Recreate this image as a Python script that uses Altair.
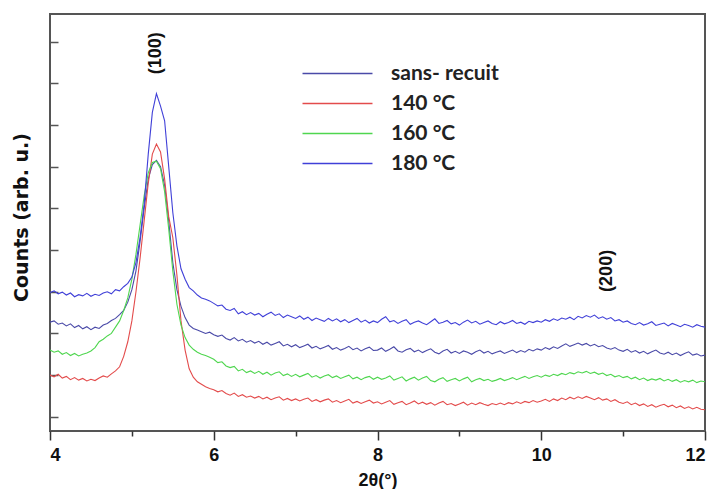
import altair as alt
import pandas as pd

# x sampling grid (2theta, degrees), step 0.05 from 4 to 12
x_grid = [round(4 + 0.05 * i, 2) for i in range(161)]

sans_recuit = [
    2.27, 2.30, 2.22, 2.25, 2.18, 2.23, 2.14, 2.19, 2.11, 2.16,
    2.09, 2.15, 2.12, 2.20, 2.24, 2.31, 2.36, 2.45, 2.55, 2.75,
    3.05, 3.50, 4.20, 5.00, 5.70, 6.05, 6.15, 6.00, 5.55, 4.70,
    3.70, 3.05, 2.65, 2.38, 2.20, 2.12, 2.08, 2.04, 2.00, 2.03,
    1.97, 1.93, 1.96, 1.88, 1.84, 1.90, 1.82, 1.86, 1.79, 1.83,
    1.77, 1.81, 1.74, 1.79, 1.72, 1.76, 1.80, 1.70, 1.74, 1.68,
    1.73, 1.66, 1.70, 1.74, 1.65, 1.69, 1.63, 1.67, 1.71, 1.62,
    1.66, 1.60, 1.64, 1.69, 1.61, 1.65, 1.58, 1.63, 1.67, 1.59,
    1.60, 1.65, 1.57, 1.62, 1.68, 1.58, 1.55, 1.61, 1.64, 1.56,
    1.60, 1.54, 1.59, 1.63, 1.55, 1.51, 1.58, 1.62, 1.53, 1.57,
    1.52, 1.58, 1.55, 1.50, 1.56, 1.60, 1.53, 1.57, 1.51, 1.55,
    1.58, 1.52, 1.56, 1.60, 1.54, 1.59, 1.55, 1.62, 1.58, 1.63,
    1.60, 1.66, 1.62, 1.68, 1.64, 1.70, 1.75, 1.69, 1.73, 1.77,
    1.72, 1.76, 1.70, 1.74, 1.68, 1.71, 1.65, 1.62, 1.66, 1.60,
    1.57, 1.62, 1.55, 1.59, 1.53, 1.57, 1.51, 1.56, 1.60, 1.53,
    1.50, 1.55, 1.49, 1.53, 1.47, 1.52, 1.56, 1.48, 1.51, 1.46,
    1.48,
]

c140 = [
    1.00, 0.96, 1.02, 0.93, 0.97, 0.89, 0.94, 0.88, 0.92, 0.86,
    0.90, 0.87, 0.93, 0.98, 0.95, 1.03, 1.10, 1.20, 1.45, 1.80,
    2.30, 3.00, 3.80, 4.70, 5.60, 6.30, 6.54, 6.35, 5.70, 4.80,
    4.30, 3.40, 2.30, 1.60, 1.15, 0.95, 0.84, 0.78, 0.72, 0.68,
    0.65, 0.60, 0.63, 0.56, 0.52, 0.57, 0.49, 0.53, 0.47, 0.50,
    0.45, 0.49, 0.43, 0.47, 0.41, 0.45, 0.48, 0.40, 0.44, 0.39,
    0.43, 0.38, 0.42, 0.45, 0.37, 0.41, 0.36, 0.40, 0.43, 0.35,
    0.39, 0.34, 0.38, 0.42, 0.33, 0.37, 0.32, 0.36, 0.40, 0.33,
    0.36, 0.31, 0.35, 0.39, 0.30, 0.34, 0.37, 0.29, 0.33, 0.38,
    0.31, 0.35, 0.30, 0.34, 0.28, 0.33, 0.37, 0.29, 0.32, 0.27,
    0.31, 0.35, 0.28, 0.33, 0.29, 0.34, 0.30, 0.27, 0.32, 0.29,
    0.33, 0.29, 0.34, 0.31, 0.36, 0.32, 0.37, 0.34, 0.39, 0.35,
    0.38, 0.42, 0.37, 0.43, 0.39, 0.45, 0.41, 0.47, 0.43, 0.48,
    0.44, 0.49, 0.45, 0.41, 0.46, 0.40, 0.43, 0.37, 0.41, 0.35,
    0.32, 0.36, 0.29, 0.33, 0.27, 0.31, 0.25, 0.29, 0.23, 0.27,
    0.30, 0.24, 0.28, 0.22, 0.26, 0.20, 0.24, 0.19, 0.23, 0.18,
    0.17,
]

c160 = [
    1.60, 1.55, 1.58, 1.50, 1.54, 1.47, 1.52, 1.46, 1.50, 1.53,
    1.58, 1.66, 1.80, 1.86, 1.94, 2.00, 2.15, 2.30, 2.55, 2.85,
    3.30, 3.90, 4.60, 5.30, 5.85, 6.10, 6.13, 5.95, 5.40, 4.50,
    3.50, 2.70, 2.20, 1.90, 1.72, 1.62, 1.55, 1.50, 1.47, 1.43,
    1.38, 1.30, 1.32, 1.22, 1.18, 1.21, 1.10, 1.14, 1.06, 1.10,
    1.04, 1.09, 1.02, 1.07, 1.00, 1.05, 1.08, 0.99, 1.03, 0.97,
    1.02, 0.96, 1.00, 1.04, 0.95, 0.99, 0.93, 0.98, 1.01, 0.94,
    0.98, 0.92, 0.96, 1.00, 0.91, 0.95, 0.89, 0.94, 0.97, 0.90,
    0.95, 0.90, 0.93, 0.98, 0.88, 0.92, 0.96, 0.86, 0.91, 0.95,
    0.88, 0.93, 0.97, 0.87, 0.84, 0.90, 0.94, 0.85, 0.89, 0.92,
    0.86, 0.91, 0.95, 0.84, 0.89, 0.92, 0.87, 0.90, 0.85, 0.88,
    0.92, 0.87, 0.90, 0.94, 0.89, 0.93, 0.97, 0.92, 0.96, 0.99,
    0.95, 1.00, 0.97, 1.02, 0.99, 1.04, 1.01, 1.06, 1.03, 1.08,
    1.05, 1.09, 1.04, 1.07, 1.02, 1.05, 0.99, 1.02, 0.96, 0.99,
    0.94, 0.97, 0.91, 0.95, 0.89, 0.93, 0.87, 0.91, 0.88, 0.92,
    0.86, 0.90, 0.85, 0.89, 0.83, 0.87, 0.84, 0.88, 0.82, 0.86,
    0.84,
]

c180 = [
    2.98, 3.02, 2.95, 2.99, 2.92, 2.97, 2.88, 2.93, 2.90, 2.96,
    2.89, 2.94, 2.91, 2.97, 3.00, 2.95, 3.05, 3.02, 3.12, 3.20,
    3.35, 3.70, 4.30, 5.10, 6.30, 7.30, 7.75, 7.45, 7.10, 6.00,
    4.90, 4.10, 3.55, 3.30, 3.10, 3.02, 2.92, 2.85, 2.82, 2.78,
    2.72, 2.66, 2.68, 2.58, 2.55, 2.60, 2.47, 2.52, 2.45, 2.50,
    2.44, 2.48, 2.40, 2.46, 2.51, 2.43, 2.47, 2.38, 2.44, 2.40,
    2.36, 2.42, 2.34, 2.39, 2.31, 2.37, 2.33, 2.29, 2.36, 2.30,
    2.35, 2.28, 2.33, 2.26, 2.31, 2.36, 2.27, 2.32, 2.25, 2.30,
    2.26, 2.34, 2.40, 2.28, 2.31, 2.24, 2.29, 2.33, 2.22, 2.27,
    2.30, 2.25, 2.21, 2.28, 2.35, 2.24, 2.27, 2.31, 2.23, 2.26,
    2.20, 2.27, 2.32, 2.25, 2.29, 2.22, 2.26, 2.30, 2.24, 2.21,
    2.28, 2.23, 2.26, 2.31, 2.24, 2.27, 2.22, 2.29, 2.26, 2.30,
    2.27, 2.33, 2.29, 2.35, 2.31, 2.37, 2.34, 2.39, 2.33, 2.41,
    2.37, 2.43, 2.39, 2.44, 2.36, 2.40, 2.34, 2.38, 2.30, 2.33,
    2.27, 2.30, 2.24, 2.21, 2.26, 2.20, 2.23, 2.28, 2.19, 2.22,
    2.25, 2.18, 2.24, 2.20, 2.16, 2.22, 2.19, 2.15, 2.21, 2.17,
    2.15,
]

series_names = ["sans- recuit", "140 °C", "160 °C", "180 °C"]
series_colors = ["#4a4aa8", "#e34b4b", "#4fd64f", "#4040d8"]

peak_labels = ["(100)", "(200)"]
peak_x = [5.3, 10.8]
peak_y = [8.72, 3.5]

major_ticks = [4, 6, 8, 10, 12]
minor_ticks = [5, 7, 9, 11]
y_ticks = [0, 1, 2, 3, 4, 5, 6, 7, 8, 9]

rows = []
for name, vals in zip(series_names, [sans_recuit, c140, c160, c180]):
    for xv, yv in zip(x_grid, vals):
        rows.append({"x": xv, "value": yv, "series": name})
df = pd.DataFrame(rows)

ann = pd.DataFrame({"x": peak_x, "value": peak_y, "label": peak_labels})

x_scale = alt.Scale(domain=[4, 12], nice=False, zero=False)
y_scale = alt.Scale(domain=[-0.34, 9.66], nice=False, zero=False)

lines = alt.Chart(df).mark_line(strokeWidth=1.1, clip=True).encode(
    x=alt.X(
        "x:Q",
        scale=x_scale,
        axis=alt.Axis(
            orient="bottom",
            values=major_ticks,
            format="d",
            domain=False,
            grid=False,
            tickSize=9,
            tickWidth=1.5,
            tickColor="#333",
            labelFont="Liberation Sans",
            labelFontWeight="bold",
            labelFontSize=18,
            labelColor="#111",
            labelPadding=6,
            title="2θ(°)",
            titleFont="Liberation Sans",
            titleFontWeight="bold",
            titleFontSize=18,
            titleColor="#111",
            titlePadding=7,
        ),
    ),
    y=alt.Y(
        "value:Q",
        scale=y_scale,
        axis=alt.Axis(
            values=y_ticks,
            labels=False,
            domain=False,
            grid=False,
            offset=-8,
            tickSize=8,
            tickWidth=1.5,
            tickColor="#555",
            title="Counts (arb. u.)",
            titleFont="DejaVu Sans",
            titleFontWeight="bold",
            titleFontSize=19,
            titleColor="#111",
            titleAngle=270,
            titleX=-37,
            titleY=203,
            titleAlign="center",
            titleBaseline="middle",
        ),
    ),
    color=alt.Color(
        "series:N",
        scale=alt.Scale(domain=series_names, range=series_colors),
        legend=alt.Legend(
            title=None,
            orient="none",
            legendX=275,
            legendY=47,
            symbolType="M-3,0H3",
            symbolSize=544,
            symbolStrokeWidth=1.5,
            symbolFillColor="transparent",
            labelFont="Lato",
            labelFontWeight="bold",
            labelFontSize=21,
            labelColor="#222",
            labelOffset=41,
            rowPadding=7,
            padding=0,
        ),
    ),
)

labels = alt.Chart(ann).mark_text(
    angle=270, align="center", baseline="middle",
    font="Liberation Sans", fontWeight="bold", fontSize=18, color="#111"
).encode(
    x=alt.X(
        "x:Q",
        scale=x_scale,
        axis=alt.Axis(
            orient="bottom",
            values=minor_ticks,
            labels=False,
            domain=False,
            grid=False,
            tickSize=5,
            tickWidth=1.5,
            tickColor="#333",
            title=None,
        ),
    ),
    y=alt.Y("value:Q", scale=y_scale),
    text="label:N",
)

chart = (
    alt.layer(lines, labels)
    .resolve_axis(x="independent")
    .properties(
        width=655,
        height=417,
        autosize=alt.AutoSizeParams(type="none"),
        padding={"left": 42, "top": 6, "right": 3, "bottom": 58},
        background="white",
    )
    .configure_view(stroke="#555", strokeWidth=2)
)

chart.save("out.html", embed_options={"renderer": "svg", "actions": False})
